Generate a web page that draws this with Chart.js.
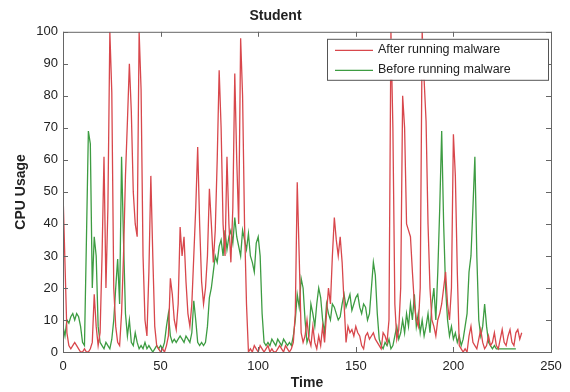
<!DOCTYPE html>
<html>
<head>
<meta charset="utf-8">
<script src="https://cdn.jsdelivr.net/npm/chart.js@4"></script>
<style>
  html, body { margin: 0; padding: 0; background: #fff; }
  #wrap { width: 570px; height: 392px; }
</style>
</head>
<body>
<div id="wrap"><canvas id="cpuChart" width="570" height="392"></canvas></div>
<script>
// CPU usage samples, one value per time step (starting at 0)
const afterMalware = [
  50, 28, 6, 2, 1, 2, 3, 2, 1, 0,
  0, 1, 0, 0, 1, 3, 18, 8, 2, 6,
  30, 61, 20, 45, 100, 81, 20, 8, 3, 2,
  12, 30, 55, 72, 90, 75, 50, 40, 36, 100,
  82, 30, 10, 5, 25, 55, 30, 8, 2, 1,
  0, 1, 0, 2, 5, 23, 18, 10, 7, 15,
  39, 30, 36, 22, 12, 8, 15, 30, 45, 64,
  40, 22, 15, 20, 30, 51, 40, 28, 38, 60,
  88, 70, 40, 30, 61, 40, 28, 45, 87, 60,
  40, 98, 80, 40, 15, 0, 1, 0, 2, 1,
  0, 2, 1, 0, 1, 2, 0, 1, 0, 0,
  1, 2, 1, 0, 2, 1, 0, 1, 3, 12,
  53, 30, 6, 3, 5, 10, 4, 2, 8, 3,
  1, 5, 2, 8, 3, 12, 20, 15, 30, 42,
  35, 30, 36, 28, 15, 3, 8, 6, 7, 5,
  8, 6, 5, 2, 1, 5, 6, 4, 5, 6,
  4, 3, 2, 1, 6, 5, 3, 10, 100, 70,
  15, 4, 7, 20, 80, 70, 40, 38, 36, 25,
  15, 10, 8, 20, 100, 85, 72, 40, 20, 10,
  8, 5, 10, 12, 15, 20, 25, 15, 10, 20,
  68, 55, 25, 2, 1, 0, 1, 0, 5, 8,
  3, 2, 1, 4, 7, 3, 1, 2, 5, 2,
  3, 6, 2, 1, 4, 7, 3, 2, 5, 7,
  3, 2, 6, 7, 4, 6
];

const beforeMalware = [
  8, 5, 10, 9, 11, 12, 10, 12, 11, 8,
  3, 2, 35, 69, 65, 20, 36, 30, 8, 3,
  2, 1, 3, 2, 1, 4, 10, 20, 29, 15,
  61, 35, 12, 5, 10, 3, 2, 6, 3, 1,
  2, 1, 3, 1, 2, 1, 0, 1, 2, 1,
  2, 1, 3, 8, 12, 5, 3, 4, 3, 4,
  5, 4, 3, 5, 4, 3, 6, 16, 10, 3,
  2, 3, 2, 3, 8, 17, 20, 25, 30, 28,
  33, 35, 30, 38, 32, 36, 38, 34, 42, 36,
  33, 30, 38, 35, 32, 37, 30, 28, 25, 34,
  36, 30, 12, 3, 2, 3, 2, 4, 3, 2,
  4, 3, 2, 4, 3, 2, 3, 2, 5, 10,
  18, 14, 23, 20, 10, 3, 5, 15, 12, 8,
  15, 20, 17, 10, 6, 15, 12, 10, 15, 14,
  12, 10, 11, 15, 18, 14, 16, 18, 13, 15,
  17, 18, 14, 12, 15, 14, 10, 12, 20, 28,
  24, 12, 4, 2, 1, 3, 2, 4, 1, 2,
  5, 8, 4, 6, 10, 6, 12, 8, 15, 10,
  18, 8, 12, 6, 10, 5, 8, 12, 6, 15,
  20, 10, 25, 45, 69, 40, 20, 10, 5, 8,
  4, 6, 3, 5, 2, 4, 8, 12, 25, 30,
  45, 61, 30, 10, 5, 8, 15, 8, 3, 2,
  1, 2, 1, 1, 1, 1, 1, 1, 1, 1,
  1, 1, 1
];

const xTicks = [0, 50, 100, 150, 200, 250];
const yTicks = [0, 10, 20, 30, 40, 50, 60, 70, 80, 90, 100];

const seriesNames = ['After running malware', 'Before running malware'];
const seriesColors = ['#d8474c', '#3d9c42'];

function toPoints(values) {
    return values.map((v, i) => ({ x: i, y: v }));
}

const fontFamily = '"Liberation Sans", Arial, sans-serif';

// box round the plot with inward tick marks, like the original figure
const boxPlugin = {
    id: 'boxTicks',
    afterDatasetsDraw(chart) {
        const { ctx, chartArea: a, scales } = chart;
        ctx.save();
        ctx.strokeStyle = '#666';
        ctx.lineWidth = 1;
        ctx.strokeRect(a.left + 0.5, a.top + 0.5, a.right - a.left, a.bottom - a.top);
        ctx.beginPath();
        xTicks.forEach(t => {
            const px = Math.round(scales.x.getPixelForValue(t)) + 0.5;
            ctx.moveTo(px, a.bottom); ctx.lineTo(px, a.bottom - 5);
            ctx.moveTo(px, a.top); ctx.lineTo(px, a.top + 5);
        });
        yTicks.forEach(t => {
            const py = Math.round(scales.y.getPixelForValue(t)) + 0.5;
            ctx.moveTo(a.left, py); ctx.lineTo(a.left + 5, py);
            ctx.moveTo(a.right, py); ctx.lineTo(a.right - 5, py);
        });
        ctx.stroke();
        ctx.restore();
    }
};

// legend drawn inside the plot, top right
const legendPlugin = {
    id: 'insideLegend',
    afterDraw(chart) {
        const { ctx, chartArea: a } = chart;
        const w = 221, h = 41;
        const x0 = a.right - w - 3, y0 = a.top + 7;
        ctx.save();
        ctx.fillStyle = '#fff';
        ctx.fillRect(x0, y0, w, h);
        ctx.strokeStyle = '#555';
        ctx.lineWidth = 1;
        ctx.strokeRect(x0 + 0.5, y0 + 0.5, w, h);
        ctx.font = '12.5px ' + fontFamily;
        ctx.textBaseline = 'middle';
        chart.data.datasets.forEach((ds, i) => {
            const yy = y0 + 11 + i * 20;
            ctx.strokeStyle = ds.borderColor;
            ctx.lineWidth = 1.3;
            ctx.beginPath();
            ctx.moveTo(x0 + 8, yy + 0.5);
            ctx.lineTo(x0 + 46, yy + 0.5);
            ctx.stroke();
            ctx.fillStyle = '#222';
            ctx.fillText(ds.label, x0 + 51, yy);
        });
        ctx.restore();
    }
};

new Chart(document.getElementById('cpuChart'), {
    type: 'line',
    data: {
        datasets: [
            {
                label: seriesNames[0],
                data: toPoints(afterMalware),
                borderColor: seriesColors[0],
                borderWidth: 1.3,
                pointRadius: 0,
                tension: 0
            },
            {
                label: seriesNames[1],
                data: toPoints(beforeMalware),
                borderColor: seriesColors[1],
                borderWidth: 1.3,
                pointRadius: 0,
                tension: 0
            }
        ]
    },
    options: {
        responsive: false,
        animation: false,
        layout: { padding: { right: 19, bottom: 0, left: 0, top: 0 } },
        plugins: {
            legend: { display: false },
            tooltip: { enabled: false },
            title: {
                display: true,
                text: 'Student',
                color: '#222',
                font: { family: fontFamily, size: 14, weight: 'bold' },
                padding: { top: 8, bottom: 7 }
            }
        },
        scales: {
            x: {
                type: 'linear',
                min: 0,
                max: 250,
                afterBuildTicks: s => { s.ticks = xTicks.map(v => ({ value: v })); },
                afterFit: s => { s.height = 40; },
                grid: { display: false, drawTicks: false },
                border: { display: false },
                ticks: {
                    color: '#222',
                    padding: 7,
                    font: { family: fontFamily, size: 13 }
                },
                title: {
                    display: true,
                    text: 'Time',
                    color: '#222',
                    padding: { top: 0, bottom: 0 },
                    font: { family: fontFamily, size: 14, weight: 'bold' }
                }
            },
            y: {
                min: 0,
                max: 100,
                afterBuildTicks: s => { s.ticks = yTicks.map(v => ({ value: v })); },
                afterFit: s => { s.width = 63; },
                grid: { display: false, drawTicks: false },
                border: { display: false },
                ticks: {
                    color: '#222',
                    padding: 5,
                    font: { family: fontFamily, size: 13 }
                },
                title: {
                    display: true,
                    text: 'CPU Usage',
                    color: '#222',
                    padding: { top: 13, bottom: 0 },
                    font: { family: fontFamily, size: 14, weight: 'bold' }
                }
            }
        }
    },
    plugins: [boxPlugin, legendPlugin]
});
</script>
</body>
</html>
